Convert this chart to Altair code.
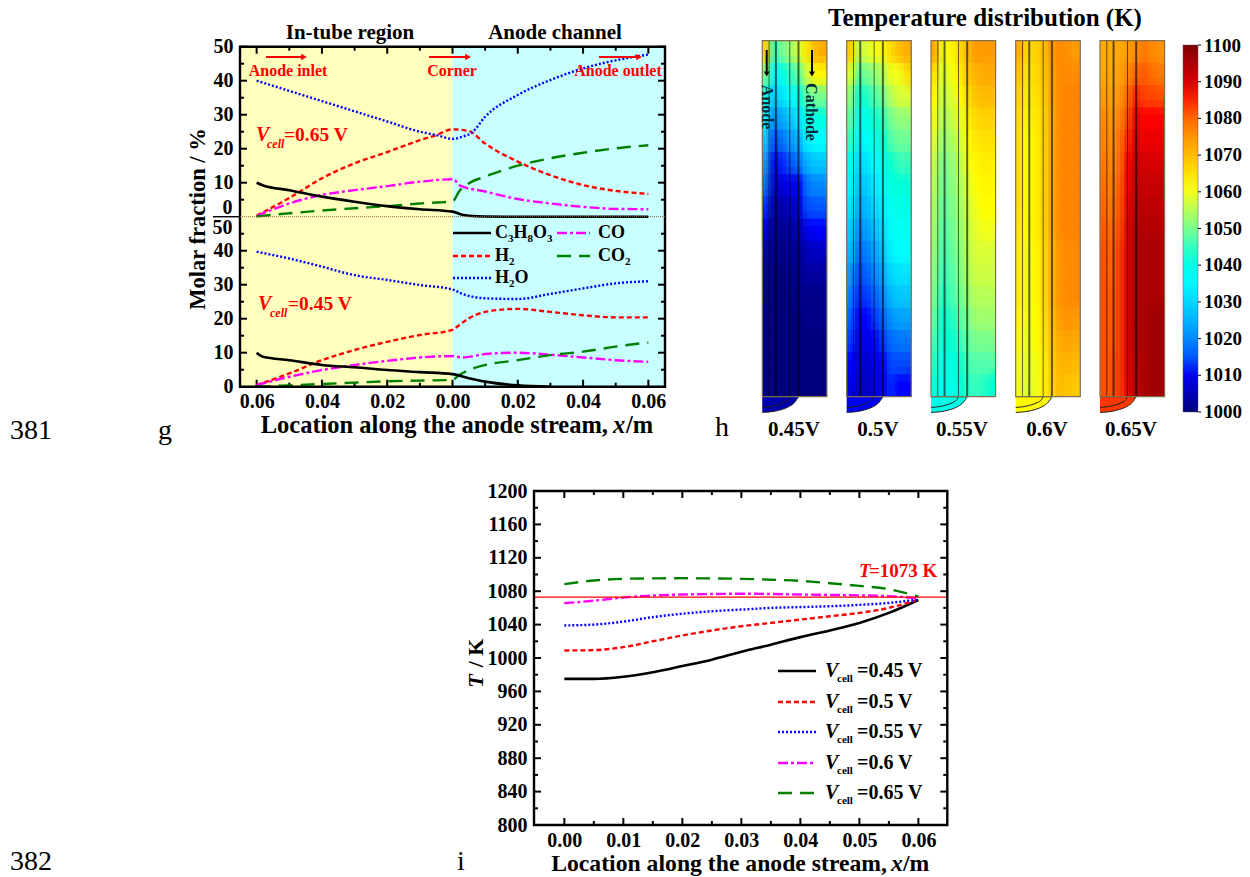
import altair as alt
import pandas as pd

W, H = 1234, 869
SERIF = "Liberation Serif"

# ---------- panel g ----------
g_species = ["C3H8O3", "H2", "H2O", "CO", "CO2"]
g_up_c3_x = [-.06, -.058, -.05, -.04, -.03, -.02, -.01, 0, .003, .005, .01, .02, .03, .04, .05, .06]
g_up_c3_y = [10, 9.2, 7.8, 5.9, 4.4, 3.1, 2.2, 1.5, .6, .3, .05, 0, 0, 0, 0, 0]
g_up_h2_x = [-.06, -.05, -.04, -.03, -.02, -.01, -.005, 0, .005, .01, .02, .03, .04, .05, .06]
g_up_h2_y = [.3, 5.5, 11.3, 15.7, 19, 22.5, 24, 25.7, 25.2, 21.5, 16.2, 12.2, 9.3, 7.6, 6.7]
g_up_h2o_x = [-.06, -.04, -.02, -.01, -.005, 0, .003, .006, .01, .02, .03, .04, .05, .06]
g_up_h2o_y = [40, 34, 28, 25, 24, 22.9, 23.5, 24.8, 29.4, 35.8, 40.2, 43.6, 46, 47.7]
g_up_co_x = [-.06, -.05, -.04, -.03, -.02, -.01, 0, .001, .002, .01, .02, .03, .04, .05, .06]
g_up_co_y = [.2, 3.9, 6.4, 7.8, 9, 10.3, 11, 10.5, 9.3, 7.4, 5.2, 3.9, 2.9, 2.3, 2.2]
g_up_co2_x = [-.06, -.05, -.04, -.03, -.02, -.01, 0, .002, .005, .01, .02, .03, .04, .05, .06]
g_up_co2_y = [.1, 1, 1.8, 2.5, 3.1, 3.9, 4.5, 7.4, 9.8, 11.8, 15, 17.2, 18.8, 20.1, 21]

g_lo_c3_x = [-.06, -.058, -.05, -.04, -.03, -.02, -.01, 0, .005, .01, .02, .03]
g_lo_c3_y = [10, 8.8, 7.8, 6.4, 5.7, 4.9, 4.3, 3.7, 2.5, 1.5, .4, 0]
g_lo_h2_x = [-.06, -.05, -.04, -.03, -.02, -.01, 0, .002, .005, .01, .02, .03, .04, .05, .06]
g_lo_h2_y = [.5, 3.9, 7.8, 10.8, 13.2, 15.2, 16.7, 18.1, 20.1, 22, 22.9, 22, 21, 20.4, 20.4]
g_lo_h2o_x = [-.06, -.05, -.04, -.03, -.02, -.01, 0, .003, .006, .01, .02, .03, .04, .05, .06]
g_lo_h2o_y = [39.7, 37.7, 35.3, 32.8, 31.4, 29.9, 28.6, 27.3, 26.5, 26, 25.8, 27.3, 28.9, 30.4, 31]
g_lo_co_x = [-.06, -.05, -.04, -.03, -.02, -.01, 0, .003, .01, .02, .03, .04, .05, .06]
g_lo_co_y = [.5, 2.9, 4.9, 6.4, 7.6, 8.6, 9, 8.6, 9.6, 10, 9.4, 8.6, 7.8, 7.3]
g_lo_co2_x = [-.06, -.05, -.04, -.03, -.02, -.01, 0, .002, .005, .01, .02, .03, .04, .05, .06]
g_lo_co2_y = [0, .4, .8, 1.2, 1.6, 1.8, 2, 3.4, 4.9, 6.4, 7.8, 9.3, 10.3, 11.8, 13]

g_x_major = [-.06, -.04, -.02, 0, .02, .04, .06]
g_x_minor = [-.05, -.03, -.01, .01, .03, .05]
g_y_major = [10, 20, 30, 40]
g_y_minor = [5, 15, 25, 35, 45]

# ---------- panel i ----------
i_x = [0, .005, .01, .015, .02, .025, .03, .035, .04, .045, .05, .055, .06]
i_045 = [975, 975, 977.6, 983, 990.4, 998, 1007.5, 1016, 1025, 1033, 1042, 1054, 1069.5]
i_050 = [1009, 1009.5, 1013, 1020, 1027, 1033, 1038, 1042, 1046, 1050, 1054, 1060, 1070]
i_055 = [1039, 1040, 1043.6, 1049, 1053, 1056, 1058, 1060, 1061, 1062, 1063.6, 1066, 1070]
i_060 = [1065.6, 1068.6, 1072.4, 1074.8, 1076, 1076.6, 1077, 1076.6, 1076, 1075.6, 1075, 1074, 1071.6]
i_065 = [1088.4, 1092.8, 1094.8, 1095.4, 1095.6, 1095.3, 1094.8, 1093.8, 1092.4, 1089.6, 1086.4, 1082.4, 1073.6]
i_x_major = [0, .01, .02, .03, .04, .05, .06]
i_x_minor = [.005, .015, .025, .035, .045, .055]
i_y_major = [800, 840, 880, 920, 960, 1000, 1040, 1080, 1120, 1160, 1200]
i_y_minor = [820, 860, 900, 940, 980, 1020, 1060, 1100, 1140, 1180]
i_labels = ["=0.45 V", "=0.5 V", "=0.55 V", "=0.6 V", "=0.65 V"]

# ---------- panel h: temperature grids (rows top to bottom, columns left to right) ----------
h_045 = [
    [1067, 1045, 1050, 1053, 1058, 1064, 1070, 1072],
    [1050, 1035, 1040, 1045, 1048, 1057, 1062, 1062],
    [1040, 1028, 1032, 1037, 1040, 1048, 1050, 1050],
    [1035, 1020, 1024, 1028, 1032, 1040, 1041, 1041],
    [1028, 1014, 1018, 1022, 1025, 1034, 1036, 1036],
    [1022, 1010, 1012, 1015, 1018, 1025, 1028, 1028],
    [1017, 1006, 1008, 1010, 1010, 1018, 1020, 1020],
    [1012, 1003, 1004, 1006, 1007, 1014, 1015, 1015],
    [1008, 1002, 1002, 1003, 1004, 1009, 1011, 1011],
    [1005, 1001, 1001, 1002, 1002, 1005, 1006, 1006],
    [1003, 1000, 1000, 1001, 1001, 1003, 1003, 1003],
    [1002, 1000, 1000, 1000, 1001, 1001, 1001, 1001],
    [1001, 1000, 1000, 1000, 1000, 1001, 1001, 1001],
    [1001, 1000, 1000, 1000, 1000, 1000, 1000, 1000],
    [1001, 1000, 1000, 1000, 1000, 1000, 1000, 1000],
    [1001, 1000, 1000, 1000, 1000, 1000, 1000, 1000],
]
h_050 = [
    [1068, 1056, 1058, 1060, 1062, 1066, 1070, 1072],
    [1058, 1048, 1050, 1052, 1055, 1060, 1060, 1066],
    [1052, 1042, 1044, 1047, 1050, 1055, 1058, 1058],
    [1048, 1038, 1040, 1043, 1045, 1050, 1052, 1052],
    [1045, 1034, 1037, 1040, 1043, 1047, 1049, 1049],
    [1038, 1030, 1032, 1036, 1040, 1043, 1045, 1045],
    [1035, 1027, 1029, 1033, 1037, 1041, 1042, 1042],
    [1032, 1024, 1026, 1030, 1034, 1038, 1040, 1040],
    [1029, 1020, 1023, 1027, 1031, 1037, 1038, 1038],
    [1026, 1017, 1019, 1023, 1028, 1034, 1036, 1036],
    [1022, 1014, 1016, 1020, 1024, 1030, 1032, 1032],
    [1019, 1012, 1013, 1016, 1020, 1026, 1028, 1028],
    [1016, 1010, 1011, 1013, 1016, 1021, 1023, 1023],
    [1013, 1008, 1009, 1011, 1013, 1017, 1018, 1018],
    [1011, 1007, 1007, 1009, 1011, 1014, 1014, 1014],
    [1009, 1006, 1006, 1008, 1010, 1012, 1011, 1011],
]
h_055 = [
    [1072, 1060, 1062, 1066, 1070, 1074, 1074, 1074],
    [1065, 1058, 1060, 1063, 1068, 1071, 1072, 1072],
    [1062, 1056, 1058, 1061, 1065, 1069, 1070, 1070],
    [1060, 1054, 1056, 1059, 1063, 1066, 1067, 1067],
    [1058, 1052, 1054, 1057, 1061, 1064, 1065, 1065],
    [1056, 1050, 1052, 1055, 1060, 1062, 1063, 1063],
    [1055, 1049, 1051, 1054, 1058, 1061, 1062, 1062],
    [1054, 1048, 1050, 1053, 1057, 1060, 1061, 1061],
    [1053, 1047, 1049, 1052, 1056, 1059, 1060, 1060],
    [1052, 1046, 1048, 1051, 1055, 1058, 1058, 1058],
    [1051, 1045, 1047, 1050, 1054, 1057, 1057, 1057],
    [1050, 1044, 1046, 1049, 1052, 1055, 1055, 1055],
    [1048, 1042, 1044, 1047, 1050, 1053, 1053, 1053],
    [1046, 1041, 1043, 1045, 1048, 1050, 1050, 1050],
    [1044, 1039, 1041, 1043, 1046, 1047, 1047, 1047],
    [1042, 1038, 1040, 1042, 1044, 1045, 1044, 1043],
]
h_060 = [
    [1072, 1066, 1067, 1070, 1074, 1076, 1075, 1074],
    [1069, 1064, 1066, 1069, 1073, 1076, 1076, 1076],
    [1067, 1063, 1065, 1068, 1073, 1076, 1077, 1077],
    [1066, 1062, 1064, 1067, 1072, 1076, 1077, 1077],
    [1065, 1061, 1063, 1067, 1072, 1076, 1077, 1077],
    [1065, 1061, 1063, 1067, 1072, 1076, 1077, 1077],
    [1065, 1061, 1063, 1067, 1072, 1076, 1077, 1077],
    [1065, 1061, 1063, 1067, 1072, 1076, 1077, 1077],
    [1064, 1061, 1063, 1067, 1072, 1076, 1077, 1077],
    [1063, 1060, 1062, 1066, 1071, 1075, 1076, 1076],
    [1063, 1060, 1062, 1066, 1071, 1075, 1076, 1076],
    [1063, 1060, 1062, 1066, 1071, 1075, 1076, 1076],
    [1062, 1060, 1061, 1065, 1070, 1074, 1075, 1074],
    [1061, 1059, 1061, 1064, 1069, 1072, 1073, 1072],
    [1060, 1059, 1060, 1063, 1068, 1071, 1071, 1070],
    [1060, 1058, 1060, 1063, 1067, 1070, 1069, 1068],
]
h_065 = [
    [1072, 1072, 1072, 1074, 1076, 1078, 1076, 1075],
    [1072, 1072, 1073, 1077, 1080, 1081, 1079, 1078],
    [1074, 1073, 1075, 1080, 1085, 1083, 1083, 1082],
    [1076, 1074, 1077, 1083, 1088, 1086, 1086, 1086],
    [1077, 1075, 1079, 1085, 1090, 1088, 1088, 1088],
    [1078, 1076, 1080, 1087, 1092, 1090, 1090, 1090],
    [1079, 1077, 1081, 1088, 1093, 1092, 1092, 1092],
    [1080, 1078, 1082, 1089, 1094, 1093, 1093, 1093],
    [1081, 1079, 1083, 1090, 1095, 1094, 1094, 1094],
    [1082, 1080, 1084, 1090, 1095, 1095, 1095, 1095],
    [1082, 1080, 1084, 1090, 1095, 1095, 1095, 1095],
    [1082, 1081, 1084, 1090, 1095, 1095, 1095, 1095],
    [1082, 1081, 1084, 1090, 1095, 1095, 1096, 1096],
    [1082, 1081, 1084, 1090, 1095, 1095, 1096, 1096],
    [1082, 1082, 1084, 1090, 1094, 1095, 1096, 1096],
    [1082, 1082, 1084, 1089, 1094, 1095, 1096, 1096],
]
h_grids = [h_045, h_050, h_055, h_060, h_065]
h_fillet_T = [1004, 1010, 1040, 1062, 1084]
h_names = ["0.45V", "0.5V", "0.55V", "0.6V", "0.65V"]
h_left = [762.3, 846.7, 931, 1015.7, 1100]
h_center = [794, 878, 962, 1047, 1131]
h_ticks = [1000, 1010, 1020, 1030, 1040, 1050, 1060, 1070, 1080, 1090, 1100]
h_inner_ticks = [1010, 1020, 1030, 1040, 1050, 1060, 1070, 1080, 1090]
h_stops = [1000, 1011, 1036, 1061, 1086, 1100]
h_colors = ["#00007f", "#0000ff", "#00ffff", "#ffff00", "#ff0000", "#7f0000"]
h_wall_x = [.105, .21, .425, .56]
h_wall_w = [1, 2, 1, 2]
h_curve_x = [0, .15, .3, .42, .5, .56]
h_curve_y = [1.044, 1.042, 1.036, 1.027, 1.016, 1.0]
h_inner_x = [0, .12, .24, .34, .4, .425]
h_inner_y = [1.03, 1.028, 1.023, 1.016, 1.008, 1.0]
# soft blending of the cells: each layer redraws the same cells shifted by a fraction of a cell
h_blend = [(0, 0, 1), (0, -1 / 3, 1 / 2), (0, 1 / 3, 1 / 3), (-.5, 0, 1 / 4), (.5, 0, 1 / 5)]

BLACK, RED, BLUE, MAGENTA, GREEN = "#000000", "#ff0000", "#0000ff", "#ff00ff", "#008000"
STYLES = [
    (BLACK, None, 2.6),
    (RED, [5, 3], 2.4),
    (BLUE, [2, 2], 2.4),
    (MAGENTA, [10, 3, 3, 3], 2.4),
    (GREEN, [14, 8], 2.4),
]


def px(v):
    return v - 8


def label(txt, x, y, size=20, align="left", color="black", style="normal", weight="bold", angle=0, font=SERIF):
    return alt.Chart(pd.DataFrame({"a": [0]})).mark_text(
        text=txt, font=font, fontSize=size, fontStyle=style, fontWeight=weight,
        color=color, align=align, baseline="middle", angle=angle,
    ).encode(x=alt.value(px(x)), y=alt.value(px(y)))


def seg(x0, y0, x1, y1, color="black", width=2.4, dash=None):
    kw = {"strokeDash": dash} if dash else {}
    return alt.Chart(pd.DataFrame({"a": [0]})).mark_rule(color=color, strokeWidth=width, **kw).encode(
        x=alt.value(px(x0)), x2=alt.value(px(x1)), y=alt.value(px(y0)), y2=alt.value(px(y1)))


def head(x, y, shape, color, size=45):
    return alt.Chart(pd.DataFrame({"a": [0]})).mark_point(
        shape=shape, filled=True, size=size, color=color, opacity=1).encode(
        x=alt.value(px(x)), y=alt.value(px(y)))


def curve(xs, ys, style, sx, sy, xaxis=None, yaxis=None, interp="monotone"):
    c, d, w = style
    kw = {"strokeDash": d} if d else {}
    return alt.Chart(pd.DataFrame({"x": xs, "y": ys})).mark_line(
        color=c, strokeWidth=w, interpolate=interp, **kw).encode(
        x=alt.X("x:Q", scale=sx, axis=xaxis), y=alt.Y("y:Q", scale=sy, axis=yaxis))


def xticks(values, sx, y_edge, length, inward_sign, axis=None):
    return alt.Chart(pd.DataFrame({"v": values})).mark_rule(color="black", strokeWidth=2).encode(
        x=alt.X("v:Q", scale=sx, axis=axis),
        y=alt.value(px(y_edge)), y2=alt.value(px(y_edge + inward_sign * length)))


def yticks(values, sy, x_edge, length, inward_sign, axis=None, width=2):
    return alt.Chart(pd.DataFrame({"v": values})).mark_rule(color="black", strokeWidth=width).encode(
        y=alt.Y("v:Q", scale=sy, axis=axis),
        x=alt.value(px(x_edge)), x2=alt.value(px(x_edge + inward_sign * length)))


def box(x0, x1, y0, y1, sx, sy, xaxis=None, yaxis=None, **mark):
    return alt.Chart(pd.DataFrame({"a": [x0], "b": [x1], "c": [y0], "d": [y1]})).mark_rect(**mark).encode(
        x=alt.X("a:Q", scale=sx, axis=xaxis), x2="b:Q",
        y=alt.Y("c:Q", scale=sy, axis=yaxis), y2="d:Q")


def num_axis(orient, offset, values, padding=7, **kw):
    return alt.Axis(orient=orient, offset=offset, values=values, title=None, grid=False, domain=False,
                    ticks=False, tickSize=0, labelPadding=padding, labelFont=SERIF, labelFontSize=20,
                    labelFontWeight="bold", labelColor="black", labelOverlap=False, **kw)


# ---------- panel g assembly ----------
G_L, G_R, G_T, G_M, G_B = 240, 665, 46.7, 216.7, 386.7
gx = alt.Scale(domain=[-.0651, .0651], range=[px(G_L), px(G_R)], nice=False, zero=False)
gy_all = alt.Scale(domain=[0, 100], range=[px(G_B), px(G_T)], nice=False, zero=False)
gy_up = alt.Scale(domain=[0, 50], range=[px(G_M), px(G_T)], nice=False, zero=False)
gy_lo = alt.Scale(domain=[0, 50], range=[px(G_B), px(G_M)], nice=False, zero=False)

g_xaxis = num_axis("bottom", px(G_B) - H, g_x_major, padding=5, labelExpr="format(abs(datum.value),'.2f')")
g_back = alt.layer(
    box(-.0651, 0, 0, 100, gx, gy_all, xaxis=g_xaxis, fill="#ffffbe"),
    box(0, .0651, 0, 100, gx, gy_all, xaxis=g_xaxis, fill="#c8ffff"),
    xticks(g_x_major, gx, G_B, 7, -1, g_xaxis), xticks(g_x_minor, gx, G_B, 4, -1, g_xaxis),
    xticks(g_x_major, gx, G_T, 7, 1, g_xaxis), xticks(g_x_minor, gx, G_T, 4, 1, g_xaxis),
)
g_up_series = [(g_up_h2_x, g_up_h2_y, 1), (g_up_h2o_x, g_up_h2o_y, 2), (g_up_co_x, g_up_co_y, 3),
               (g_up_co2_x, g_up_co2_y, 4), (g_up_c3_x, g_up_c3_y, 0)]
g_lo_series = [(g_lo_h2_x, g_lo_h2_y, 1), (g_lo_h2o_x, g_lo_h2o_y, 2), (g_lo_co_x, g_lo_co_y, 3),
               (g_lo_co2_x, g_lo_co2_y, 4), (g_lo_c3_x, g_lo_c3_y, 0)]
up_axis = num_axis("left", -px(G_L), [10, 20, 30, 40, 50])
lo_axis = num_axis("left", -px(G_L), [0, 10, 20, 30, 40])
g_upper = alt.layer(
    *[curve(a, b, STYLES[k], gx, gy_up, yaxis=up_axis) for a, b, k in g_up_series],
    yticks(g_y_major + [50], gy_up, G_L, 7, 1, up_axis), yticks(g_y_minor, gy_up, G_L, 4, 1, up_axis),
    yticks(g_y_major + [50], gy_up, G_R, 7, -1, up_axis), yticks(g_y_minor, gy_up, G_R, 4, -1, up_axis),
)
g_lower = alt.layer(
    *[curve(a, b, STYLES[k], gx, gy_lo, yaxis=lo_axis) for a, b, k in g_lo_series],
    yticks(g_y_major, gy_lo, G_L, 7, 1, lo_axis), yticks(g_y_minor, gy_lo, G_L, 4, 1, lo_axis),
    yticks(g_y_major, gy_lo, G_R, 7, -1, lo_axis), yticks(g_y_minor, gy_lo, G_R, 4, -1, lo_axis),
)
g_frame = box(-.0651, .0651, 0, 100, gx, gy_all, fillOpacity=0, stroke="black", strokeWidth=2.4)

g_text = [
    label("In-tube region", 350, 33, 21, "center"),
    label("Anode channel", 555, 33, 21, "center"),
    label("Molar fraction / %", 198, 219, 22.5, "center", angle=270),
    label("0", 232.5, 207.5, 20, "right"),
    label("50", 232.5, 227.5, 20, "right"),
    seg(213, G_M, G_L, G_M, width=1.4),
    seg(G_L, G_M, G_R, G_M, color="#8a5a2a", width=1, dash=[1, 1]),
    seg(266, 57, 303, 57, RED, 1.8), head(304, 57, "triangle-right", RED),
    seg(429, 57, 467, 57, RED, 1.8), head(468, 57, "triangle-right", RED),
    seg(599, 57, 638, 57, RED, 1.8), head(639, 57, "triangle-right", RED),
    label("Anode inlet", 288, 71, 16, "center", RED),
    label("Corner", 452, 71, 16, "center", RED),
    label("Anode outlet", 618, 71, 16, "center", RED),
    label("V", 256, 135, 20, color=RED, style="italic"),
    label("cell", 267, 144, 12, color=RED, style="italic"),
    label("=0.65 V", 284, 135, 19.5, color=RED),
    label("V", 258, 304, 20, color=RED, style="italic"),
    label("cell", 270, 313, 12, color=RED, style="italic"),
    label("=0.45 V", 288, 304, 19.5, color=RED),
    label("Location along the anode stream,", 608, 426, 24.5, "right"),
    label("x", 619, 426, 24.5, "center", style="italic"),
    label("/m", 626, 426, 24.5),
    # legend of panel g
    seg(453, 233, 491, 233, BLACK, 2.6),
    seg(453, 256, 491, 256, RED, 2.4, STYLES[1][1]),
    seg(453, 278, 491, 278, BLUE, 2.4, STYLES[2][1]),
    seg(557, 233, 590, 233, MAGENTA, 2.4, STYLES[3][1]),
    seg(557, 256, 590, 256, GREEN, 2.4, STYLES[4][1]),
    label("C", 495, 233, 18), label("3", 508, 239, 11), label("H", 513.5, 233, 18),
    label("8", 527.5, 239, 11), label("O", 533, 233, 18), label("3", 547, 239, 11),
    label("H", 495, 256, 18), label("2", 509, 262, 11),
    label("H", 495, 278, 18), label("2", 509, 284, 11), label("O", 514.5, 278, 18),
    label("CO", 598, 233, 18),
    label("CO", 598, 256, 18), label("2", 625, 262, 11),
]

# ---------- panel h assembly ----------
color_scale = alt.Scale(domain=h_stops, range=h_colors)
h_legend = alt.Legend(orient="none", legendX=px(1183), legendY=px(45), gradientLength=367,
                      gradientThickness=15, direction="vertical", values=h_inner_ticks, title=None, format="d",
                      labelFont=SERIF, labelFontSize=19, labelFontWeight="bold", labelColor="black",
                      labelOverlap=False, labelOffset=6, labelBaseline="middle",
                      gradientStrokeColor="#555555", gradientStrokeWidth=0.5)
H_W, H_T, H_Y1, H_YB = 64.6, 40.7, 396.7, 412.3


def heat_panel(k):
    left = h_left[k]
    hx = alt.Scale(domain=[0, 1], range=[px(left), px(left + H_W)], nice=False, zero=False)
    hy = alt.Scale(domain=[0, 1.0438], range=[px(H_T), px(H_YB)], nice=False, zero=False)
    grid = h_grids[k]
    nr, nc = len(grid), len(grid[0])
    cell_layers = []
    for dx, dy, alpha in h_blend:
        rows = []
        for r in range(nr):
            for c in range(nc):
                pad = .006 if alpha == 1 else 0
                x0 = max(0, (c + dx) / nc)
                x1 = min(1, (c + dx + 1) / nc + pad)
                y0 = max(0, (r + dy) / nr)
                y1 = min(1, (r + dy + 1) / nr + pad / 3)
                rows.append({"x0": x0, "x1": x1, "y0": y0, "y1": y1, "T": grid[r][c]})
        cell_layers.append(alt.Chart(pd.DataFrame(rows)).mark_rect(fillOpacity=alpha).encode(
            x=alt.X("x0:Q", scale=hx, axis=None), x2="x1:Q",
            y=alt.Y("y0:Q", scale=hy, axis=None), y2="y1:Q",
            color=alt.Color("T:Q", scale=color_scale, legend=h_legend),
        ))
    fillet = alt.Chart(pd.DataFrame({"x": h_curve_x, "y": h_curve_y, "top": [1.0] * 6,
                                     "T": [h_fillet_T[k]] * 6})).mark_area(interpolate="monotone").encode(
        x=alt.X("x:Q", scale=hx, axis=None),
        y=alt.Y("y:Q", scale=hy, axis=None), y2="top:Q",
        color=alt.Color("T:Q", scale=color_scale, legend=h_legend),
    )
    walls = [alt.Chart(pd.DataFrame({"x": [wx, wx], "y": [0, 1.0]})).mark_line(
        color="#000000", opacity=0.6, strokeWidth=ww).encode(
        x=alt.X("x:Q", scale=hx, axis=None), y=alt.Y("y:Q", scale=hy, axis=None))
        for wx, ww in zip(h_wall_x, h_wall_w)]
    base = alt.Chart(pd.DataFrame({"x": [0, .56], "y": [1.0, 1.0]})).mark_line(
        color="#000000", opacity=0.5, strokeWidth=1).encode(
        x=alt.X("x:Q", scale=hx, axis=None), y=alt.Y("y:Q", scale=hy, axis=None))
    outer = curve(h_curve_x, h_curve_y, ("#222222", None, 1), hx, hy)
    inner = curve(h_inner_x, h_inner_y, ("#222222", None, 1), hx, hy)
    frame = box(0, 1, 0, 1, hx, hy, fillOpacity=0, stroke="#807050", strokeWidth=1.2)
    return alt.layer(*cell_layers, fillet, *walls, base, outer, inner, frame)


bar_y = alt.Scale(domain=[1000, 1100], range=[px(412), px(45)], nice=False, zero=False)
h_text = [label("Temperature distribution (K)", 985, 18, 25, "center")]
h_text += [label(n, c, 430, 21, "center") for n, c in zip(h_names, h_center)]
h_text += [
    seg(766.7, 50, 766.7, 73, width=2), head(766.7, 74, "triangle-down", "black", 35),
    seg(812, 50, 812, 73, width=2), head(812, 74, "triangle-down", "black", 35),
    label("Anode", 767, 107, 16, "center", color="#002a3a", angle=90),
    label("Cathode", 811, 112, 16, "center", color="#002a3a", angle=90),
    label("1100", 1204, 46, 19),
    label("1000", 1204, 412, 19),
    yticks(h_ticks, bar_y, 1198, 3, 1, None, 1),
]

# ---------- panel i assembly ----------
I_L, I_R, I_T, I_B = 534, 947.3, 491, 825
ix = alt.Scale(domain=[-.00514, .0649], range=[px(I_L), px(I_R)], nice=False, zero=False)
iy = alt.Scale(domain=[800, 1200], range=[px(I_B), px(I_T)], nice=False, zero=False)
i_xaxis = num_axis("bottom", px(I_B) - H, i_x_major, padding=5, format=".2f")
i_yaxis = num_axis("left", -px(I_L), i_y_major, format="d")
i_series = [i_045, i_050, i_055, i_060, i_065]
i_ref = alt.Chart(pd.DataFrame({"y": [1073]})).mark_rule(color=RED, strokeWidth=1.3).encode(
    y=alt.Y("y:Q", scale=iy, axis=i_yaxis), x=alt.value(px(I_L)), x2=alt.value(px(I_R)))
i_panel = alt.layer(
    *[curve(i_x, s, STYLES[n], ix, iy, xaxis=i_xaxis, yaxis=i_yaxis) for n, s in enumerate(i_series)],
    i_ref,
    xticks(i_x_major, ix, I_B, 7, -1, i_xaxis), xticks(i_x_minor, ix, I_B, 4, -1, i_xaxis),
    xticks(i_x_major, ix, I_T, 7, 1, i_xaxis), xticks(i_x_minor, ix, I_T, 4, 1, i_xaxis),
    yticks(i_y_major, iy, I_L, 7, 1, i_yaxis), yticks(i_y_minor, iy, I_L, 4, 1, i_yaxis),
    yticks(i_y_major, iy, I_R, 7, -1, i_yaxis), yticks(i_y_minor, iy, I_R, 4, -1, i_yaxis),
    box(-.00514, .0649, 800, 1200, ix, iy, xaxis=i_xaxis, yaxis=i_yaxis,
        fillOpacity=0, stroke="black", strokeWidth=2.4),
)
i_rows = [671, 702, 732, 763, 793]
i_text = [
    label("T", 859, 571, 19, color=RED, style="italic"),
    label("=1073 K", 869, 571, 19, color=RED),
    label("T", 476, 681, 22, "center", style="italic", angle=270),
    label("/ K", 476, 653, 22, "center", angle=270),
    label("Location along the anode stream,", 887, 864, 23.7, "right"),
    label("x", 897, 864, 23.7, "center", style="italic"),
    label("/m", 903, 864, 23.7),
]
for n, yy in enumerate(i_rows):
    c, d, w = STYLES[n]
    i_text.append(seg(778, yy, 816, yy, c, w, d))
    i_text.append(label("V", 825, yy, 20, style="italic"))
    i_text.append(label("cell", 837, yy + 8, 11))
    i_text.append(label(i_labels[n], 857, yy, 20))

# ---------- page labels ----------
page_text = [
    label("381", 10, 431, 28, weight="normal"),
    label("382", 10, 862, 28, weight="normal"),
    label("g", 165, 431, 28, "center", weight="normal"),
    label("h", 722, 428, 28, "center", weight="normal"),
    label("i", 461, 862, 28, "center", weight="normal"),
]

chart = alt.layer(
    g_back, g_upper, g_lower, g_frame,
    *[heat_panel(k) for k in range(5)],
    i_panel,
    *g_text, *h_text, *i_text, *page_text,
).resolve_scale(x="independent", y="independent").properties(
    width=W, height=H, padding=0, autosize=alt.AutoSizeParams(type="none"), background="white"
).configure_view(stroke=None)

chart.save("out.html", embed_options={"renderer": "svg", "actions": False})
